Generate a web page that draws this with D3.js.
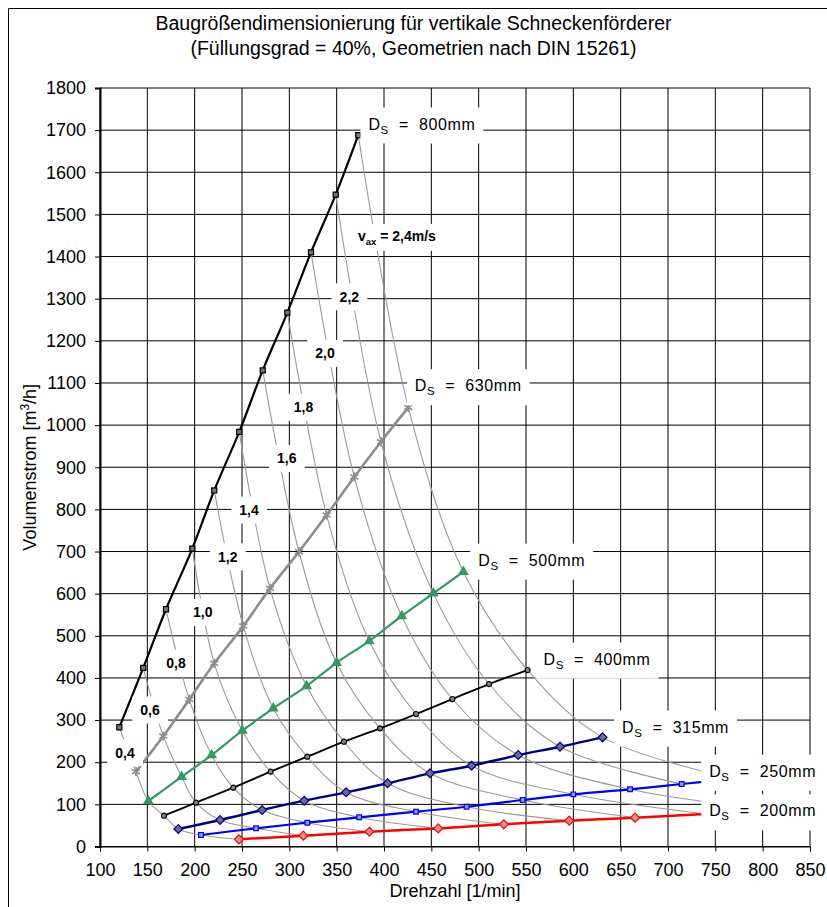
<!DOCTYPE html>
<html>
<head>
<meta charset="utf-8">
<script src="https://cdn.jsdelivr.net/npm/d3@7"></script>
<style>
  body { margin: 0; background: #fff; }
  svg { display: block; font-family: "Liberation Sans", Arial, sans-serif; }
</style>
</head>
<body>
<div id="chart"></div>
<script>
// Drehzahl [1/min] und Volumenstrom [m3/h] je Schneckendurchmesser
const rpm800 = [120.4, 145.7, 169.7, 197.5, 220.7, 247.1, 271.9, 297.9, 322.9, 349, 372.8];
const q800   = [283, 424, 563, 707, 845, 984, 1130, 1267, 1410, 1547, 1688];
const rpm630 = [138, 166.9, 194.3, 220.7, 251.4, 279.6, 310.2, 339.4, 368.6, 396.8, 425.7];
const q630   = [177.5, 262, 349, 434.7, 523, 612.6, 699.5, 786.5, 877, 960.5, 1042];
const rpm500 = [151, 186.2, 217.9, 250.3, 283, 318.2, 349.9, 384.4, 418.7, 452.1, 483.8];
const q500   = [108, 165.6, 217, 274.8, 328, 380.8, 436, 487.6, 547, 600.7, 652];
const rpm400 = [167.6, 201.4, 240.8, 280.2, 318.9, 357.7, 395.8, 433.8, 472.2, 511, 551.7];
const q400   = [73, 104, 139.6, 177.6, 213, 248.7, 280.4, 314.4, 350, 385.6, 418.8];
const rpm315 = [182.7, 226.8, 271.3, 315.7, 360, 403.8, 448.6, 492.5, 541.8, 585.9, 630.9];
const q315   = [41.5, 62.9, 86.6, 108.7, 128.6, 150, 173.7, 191.7, 217, 236.8, 259];
const rpm250 = [206.7, 264.8, 319, 373.8, 433.8, 487.3, 546.5, 600, 659.9, 714.5, 770];
const q250   = [27.3, 43.2, 56.5, 69.3, 82.6, 94.4, 110.3, 123.8, 135.7, 148.3, 161];
const rpm200 = [246.8, 314.8, 384.5, 457.3, 526.6, 595.7, 665.2, 739, 810];
const q200   = [17, 25.7, 35, 43, 52.6, 61.2, 68.4, 77.3, 86];

const diameters = ["800", "630", "500", "400", "315", "250", "200"];
// label anchors of the diameter captions, in data units
const dsLabelRpm = [440, 489, 556, 625, 708, 800, 800];
const dsLabelQ   = [1711, 1090, 676, 441, 280, 175, 81];

// axial velocity v_ax [m/s], one iso line per index
const velocities = ["0,4", "0,6", "0,8", "1,0", "1,2", "1,4", "1,6", "1,8", "2,0", "2,2", "2,4"];
const velLabelRpm = [126.4, 152.8, 180.3, 208.5, 234.9, 257.4, 297.3, 314.9, 337.7, 363.4, 413.6];
const velLabelQ   = [222.6, 323.8, 434.7, 555.6, 687.5, 798.4, 920.9, 1042.2, 1170.2, 1304.5, 1445.5];

const xTicks = d3.range(100, 851, 50);
const yTicks = d3.range(0, 1801, 100);

const title1 = "Baugrößendimensionierung für vertikale Schneckenförderer";
const title2 = "(Füllungsgrad = 40%, Geometrien nach DIN 15261)";

// ------------------------------------------------------------
const width = 827, height = 907;
const margin = { left: 100, right: 17, top: 88, bottom: 60.5 };

const x = d3.scaleLinear().domain([100, 850]).range([margin.left, width - margin.right]);
const y = d3.scaleLinear().domain([0, 1800]).range([height - margin.bottom, margin.top]);

const svg = d3.select("#chart").append("svg")
  .attr("width", width)
  .attr("height", height);

svg.append("rect").attr("width", width).attr("height", height).attr("fill", "#fff");

// outer chart frame (left / top edge visible in the original)
svg.append("path")
  .attr("d", `M8.5,${height} V8.5 H${width}`)
  .attr("fill", "none")
  .attr("stroke", "#000")
  .attr("stroke-width", 1);

// titles
svg.append("text")
  .attr("x", width / 2).attr("y", 30)
  .attr("text-anchor", "middle")
  .style("font-size", "19.5px")
  .text(title1);
svg.append("text")
  .attr("x", width / 2).attr("y", 55)
  .attr("text-anchor", "middle")
  .style("font-size", "19.5px")
  .text(title2);

// grid
const grid = svg.append("g");
grid.selectAll(".vg").data(xTicks).enter().append("line")
  .attr("x1", d => x(d)).attr("x2", d => x(d))
  .attr("y1", y(0)).attr("y2", y(1800))
  .attr("stroke", "#000").attr("stroke-width", 1);
grid.selectAll(".hg").data(yTicks).enter().append("line")
  .attr("x1", x(100)).attr("x2", x(850))
  .attr("y1", d => y(d)).attr("y2", d => y(d))
  .attr("stroke", "#000").attr("stroke-width", 1);

// axes
const xAxis = svg.append("g")
  .attr("transform", `translate(0,${y(0)})`)
  .call(d3.axisBottom(x).tickValues(xTicks).tickSize(5).tickPadding(12).tickFormat(d3.format("d")));
const yAxis = svg.append("g")
  .attr("transform", `translate(${x(100)},0)`)
  .call(d3.axisLeft(y).tickValues(yTicks).tickSize(5).tickPadding(9).tickFormat(d3.format("d")));
[xAxis, yAxis].forEach(a => {
  a.selectAll("text").style("font-size", "18px").attr("fill", "#000")
    .style("font-family", "'Liberation Sans', Arial, sans-serif");
  a.selectAll("line").attr("stroke", "#000");
  a.select(".domain").attr("stroke", "#000");
});
yAxis.select(".domain").attr("stroke-width", 2);

// axis titles
svg.append("text")
  .attr("x", (x(100) + x(850)) / 2).attr("y", 897)
  .attr("text-anchor", "middle")
  .style("font-size", "18px")
  .text("Drehzahl [1/min]");
const yt = svg.append("text")
  .attr("transform", `translate(36,${(y(0) + y(1800)) / 2}) rotate(-90)`)
  .attr("text-anchor", "middle")
  .style("font-size", "18px");
yt.append("tspan").text("Volumenstrom [m");
yt.append("tspan").attr("dy", -7).style("font-size", "12px").text("3");
yt.append("tspan").attr("dy", 7).text("/h]");

// ------------------------------------------------------------
// series, styles kept apart from the values
const series = [
  { n: rpm800, q: q800, color: "#000000", lw: 2.2, sym: d3.symbolSquare, size: 26, fill: "#777" },
  { n: rpm630, q: q630, color: "#8c8c8c", lw: 2.6, sym: d3.symbolAsterisk, size: 60, fill: "none" },
  { n: rpm500, q: q500, color: "#339966", lw: 2.2, sym: d3.symbolTriangle, size: 34, fill: "#339966" },
  { n: rpm400, q: q400, color: "#000000", lw: 1.9, sym: d3.symbolCircle, size: 20, fill: "#888" },
  { n: rpm315, q: q315, color: "#000080", lw: 2.4, sym: d3.symbolDiamond2, size: 50, fill: "#6a6aa0" },
  { n: rpm250, q: q250, color: "#0000ff", lw: 2.2, sym: d3.symbolSquare, size: 22, fill: "#9a9ac8" },
  { n: rpm200, q: q200, color: "#ff0000", lw: 2.5, sym: d3.symbolDiamond2, size: 52, fill: "#e08a8a" }
];
series.forEach(s => { s.pts = s.n.map((v, i) => [v, s.q[i]]); });

const plot = svg.append("g");
plot.append("clipPath").attr("id", "clip").append("rect")
  .attr("x", x(100)).attr("y", y(1800))
  .attr("width", x(850) - x(100)).attr("height", y(0) - y(1800));
const inner = plot.append("g").attr("clip-path", "url(#clip)");

// iso velocity lines: i-th point of every diameter
const iso = d3.line()
  .x(d => x(d[0])).y(d => y(d[1]))
  .curve(d3.curveCatmullRom.alpha(0.5));
velocities.forEach((v, i) => {
  const pts = series.filter(s => i < s.pts.length).map(s => s.pts[i]);
  inner.append("path")
    .attr("d", iso(pts))
    .attr("fill", "none")
    .attr("stroke", "#9a9a9a")
    .attr("stroke-width", 1.1);
});

const line = d3.line()
  .x(d => x(d[0])).y(d => y(d[1]))
  .curve(d3.curveCatmullRom.alpha(0.5));
series.forEach(s => {
  inner.append("path")
    .attr("d", line(s.pts))
    .attr("fill", "none")
    .attr("stroke", s.color)
    .attr("stroke-width", s.lw);
  inner.selectAll(null).data(s.pts).enter().append("path")
    .attr("transform", d => `translate(${x(d[0])},${y(d[1])})`)
    .attr("d", d3.symbol().type(s.sym).size(s.size))
    .attr("fill", s.fill)
    .attr("stroke", s.color)
    .attr("stroke-width", s.sym === d3.symbolAsterisk ? 1.6 : 1.2);
});

// ------------------------------------------------------------
// labels on white boxes
function boxed(cx, cy, padX, boxH, build) {
  const g = svg.append("g");
  const r = g.append("rect").attr("fill", "#fff");
  const t = g.append("text").attr("x", cx).attr("y", 0).attr("text-anchor", "middle");
  build(t);
  const bb = t.node().getBBox();
  t.attr("y", cy - (bb.y + bb.height / 2));
  r.attr("x", bb.x - padX).attr("width", bb.width + 2 * padX)
    .attr("y", cy - boxH / 2).attr("height", boxH);
}

diameters.forEach((d, i) => {
  boxed(x(dsLabelRpm[i]), y(dsLabelQ[i]), 8, 36, t => {
    t.style("font-size", "16px").style("letter-spacing", "0.6px");
    t.append("tspan").text("D");
    t.append("tspan").attr("dy", 4).style("font-size", "11.5px").text("S");
    t.append("tspan").attr("dy", -4).style("white-space", "pre").text("  =  " + d + "mm");
  });
});

velocities.forEach((v, i) => {
  boxed(x(velLabelRpm[i]), y(velLabelQ[i]), 8, 27, t => {
    t.style("font-size", "14px").style("font-weight", "bold");
    if (i === velocities.length - 1) {
      t.append("tspan").text("v");
      t.append("tspan").attr("dy", 4).style("font-size", "9.5px").text("ax");
      t.append("tspan").attr("dy", -4).style("white-space", "pre").text(" = " + v + "m/s");
    } else {
      t.text(v);
    }
  });
});
</script>
</body>
</html>
